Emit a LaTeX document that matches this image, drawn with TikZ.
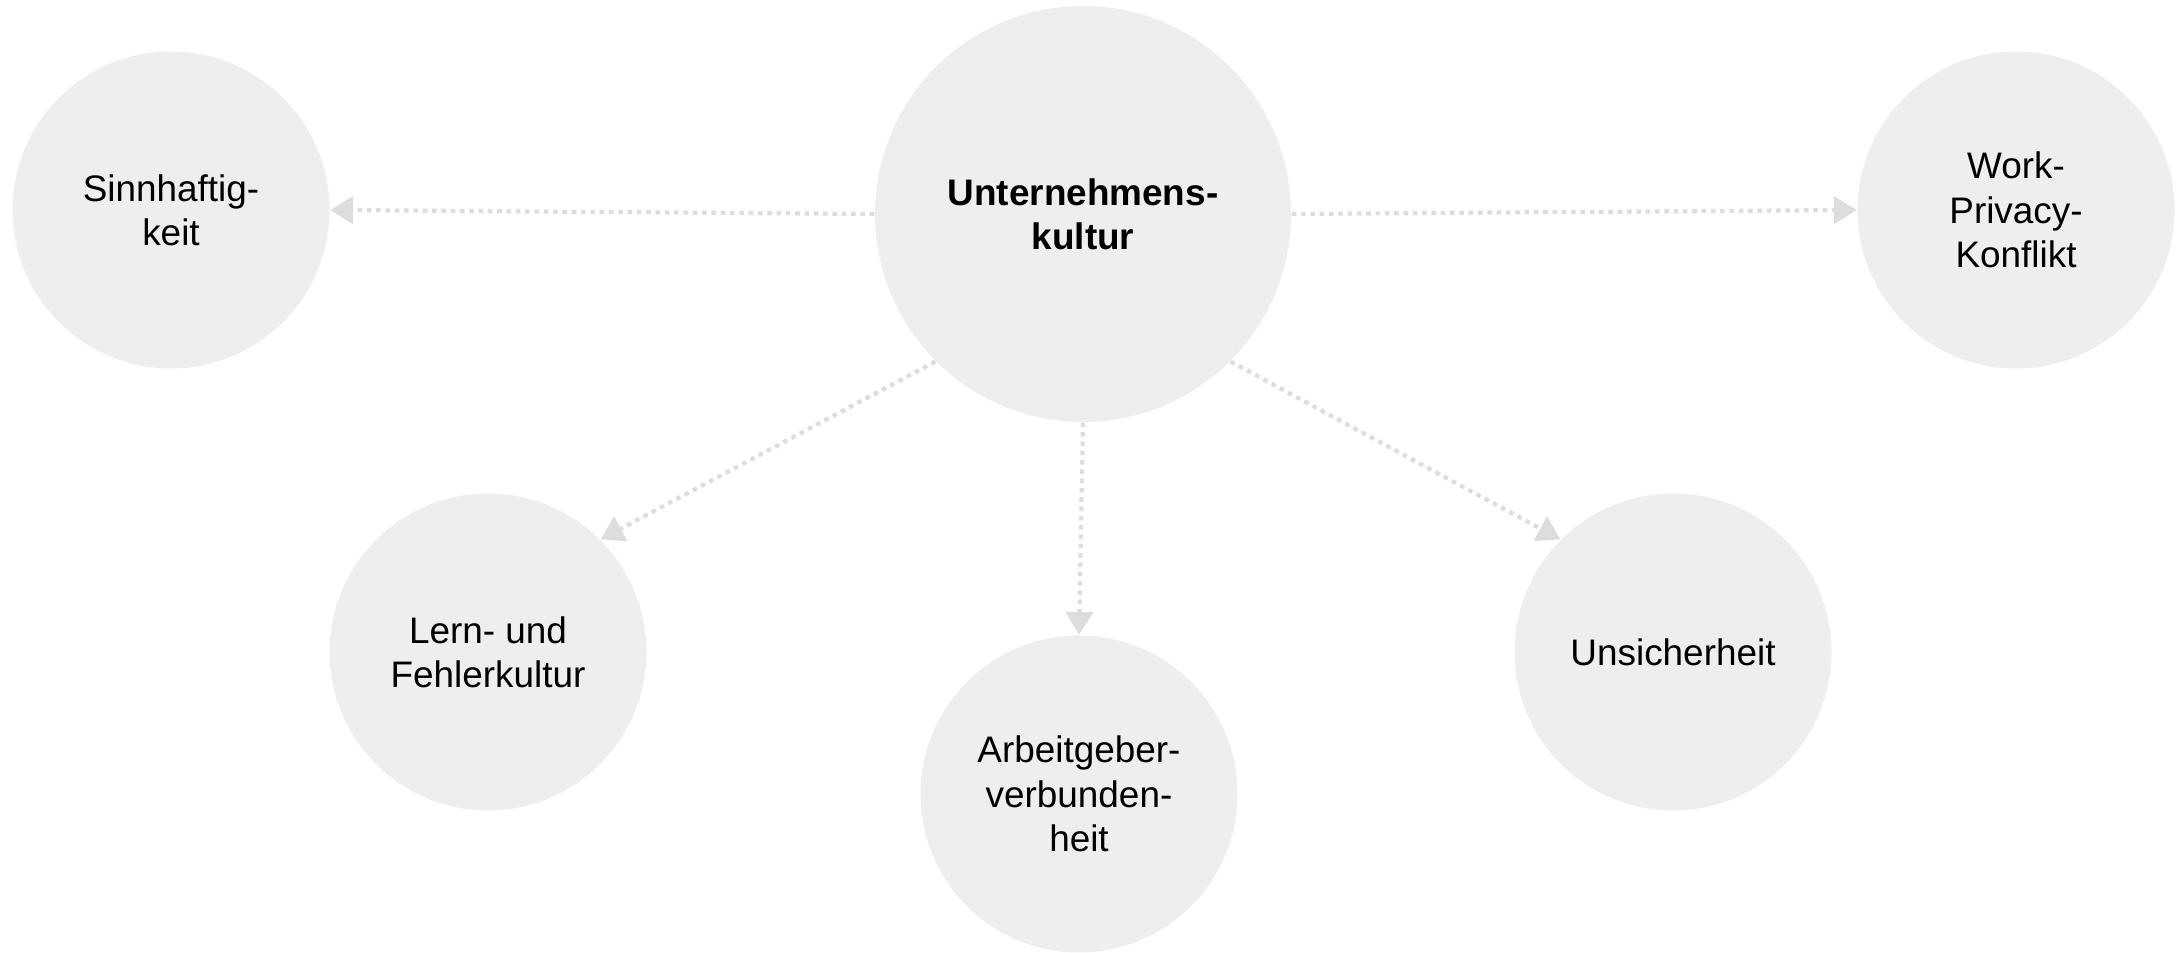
\documentclass[tikz,border=0pt]{standalone}
\usepackage{fontspec}
\setmainfont{Liberation Sans}
\usepackage{tikz}
\usetikzlibrary{arrows.meta,positioning}
\definecolor{bubble}{HTML}{EEEEEE}
\definecolor{link}{HTML}{DDDDDD}

\begin{document}
\begin{tikzpicture}[
	topic/.style={circle, fill=bubble, draw=none, minimum size=3.17cm, align=center,
		font=\fontsize{10.5pt}{12.6pt}\selectfont},
	core/.style={topic, minimum size=4.16cm, font=\fontsize{10.5pt}{12.6pt}\selectfont\bfseries},
	arr/.style={-{Triangle[length=6.5pt,width=7.7pt]}, color=link, line width=1.2pt,
		dash pattern=on 1.3pt off 1.35pt}
]
					\useasboundingbox (0,0) rectangle (21.8,9.53);
					\node[core] (kultur) at (10.83,7.39) {Unternehmens-\\kultur};
					\node[topic] (sinn) at (1.71,7.43) {Sinnhaftig-\\keit};
					\node[topic] (work) at (20.16,7.43) {Work-\\Privacy-\\Konflikt};
					\node[topic] (lern) at (4.88,3.01) {Lern- und\\Fehlerkultur};
					\node[topic] (bindung) at (10.79,1.59) {Arbeitgeber-\\verbunden-\\heit};
					\node[topic] (unsicher) at (16.73,3.01) {Unsicherheit};

					\path [arr]
						(kultur.west) edge (sinn.east)
						(kultur.east) edge (work.west)
						(kultur.-135) edge (lern.45)
						(kultur.south) edge (bindung.north)
						(kultur.-45) edge (unsicher.135)
					;
                \end{tikzpicture}
\end{document}
